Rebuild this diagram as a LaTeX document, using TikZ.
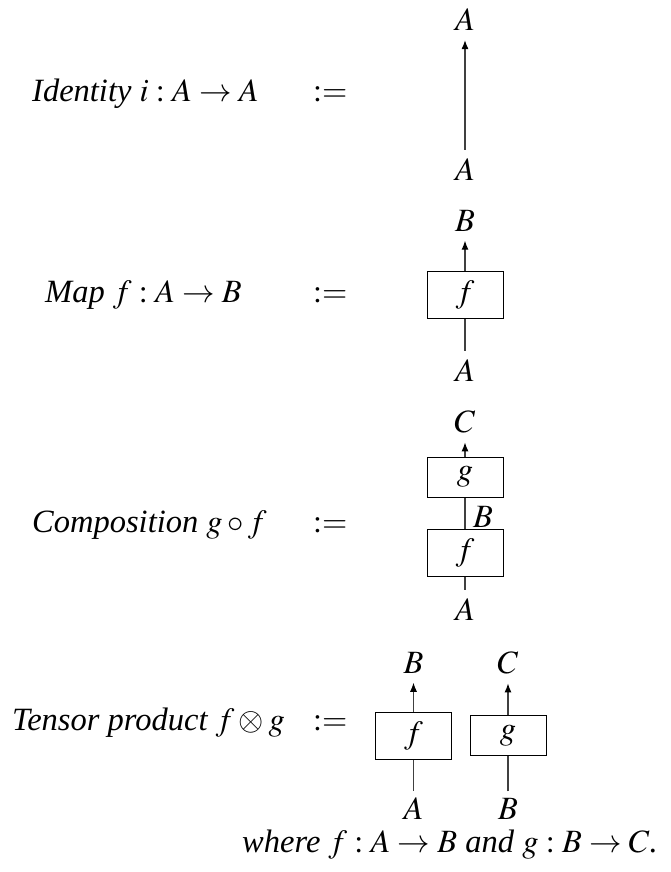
\documentclass[tikz,border=0pt]{standalone}
\usepackage{mathptmx}
\usepackage{fontspec}
\setmainfont{Liberation Serif}
\usetikzlibrary{arrows.meta}
\begin{document}
\begin{tikzpicture}[x=1pt,y=-1pt,
  font=\fontsize{32.5}{38}\selectfont,
  obj/.style={inner sep=0pt},
  mapbox/.style={draw, line width=1pt, minimum width=76pt, minimum height=47pt, inner sep=0pt},
  mapboxs/.style={mapbox, minimum height=40pt},
  wire/.style={line width=1.1pt, black!75},
  fromobj/.style={shorten <=9pt},
  toobj/.style={shorten >=9pt},
  arr/.style={wire, -{Latex[length=9pt,width=7pt,color=black]}},
  lbl/.style={anchor=base west, inner sep=0pt}]
\useasboundingbox (0,0) rectangle (670,872);

% Identity
\node[lbl] (tid) at (32,102) {\itshape Identity $i : A \to A$};
\node[lbl] (did) at (313,102) {$:=$};
\node[obj] (idB) at (465,170) {$A$};
\node[obj] (idT) at (465,20) {$A$};
\draw[arr,fromobj,toobj] (idB.north) -- (idT.south);

% Map
\node[lbl] (tmap) at (45,302) {\itshape Map $f : A \to B$};
\node[lbl] (dmap) at (313,302) {$:=$};
\node[mapbox] (mf) at (465,294.5) {$f$};
\node[obj] (mA) at (465,371) {$A$};
\node[obj] (mB) at (465,221) {$B$};
\draw[wire,fromobj] (mA.north) -- (mf.south);
\draw[arr,toobj] (mf.north) -- (mB.south);

% Composition
\node[lbl] (tcomp) at (32,532) {\itshape Composition $g \circ f$};
\node[lbl] (dcomp) at (313,532) {$:=$};
\node[mapboxs] (cg) at (465,477) {$g$};
\node[mapbox] (cf) at (465,552.5) {$f$};
\node[obj] (cA) at (465,610) {$A$};
\node[obj] (cC) at (465,422) {$C$};
\node[obj] (cB) at (483,516.5) {$B$};
\draw[wire,fromobj] (cA.north) -- (cf.south);
\draw[wire] (cf.north) -- (cg.south);
\draw[arr,toobj] (cg.north) -- (cC.south);

% Tensor
\node[lbl] (tten) at (12,730) {\itshape Tensor product $f \otimes g$};
\node[lbl] (dten) at (313,730) {$:=$};
\node[mapbox] (tf) at (413.5,735.5) {$f$};
\node[mapboxs] (tg) at (508,735.5) {$g$};
\node[obj] (tA) at (413.5,809) {$A$};
\node[obj] (tB2) at (508,809) {$B$};
\node[obj] (tB) at (413.5,663) {$B$};
\node[obj] (tC) at (508,663) {$C$};
\draw[wire,shorten <=7pt] (tA.north) -- (tf.south);
\draw[wire,shorten <=7pt] (tB2.north) -- (tg.south);
\draw[arr,toobj] (tf.north) -- (tB.south);
\draw[arr,toobj] (tg.north) -- (tC.south);

\node[lbl] (where) at (242,852) {\itshape where $f : A \to B$ and $g : B \to C$.};
\end{tikzpicture}
\end{document}
